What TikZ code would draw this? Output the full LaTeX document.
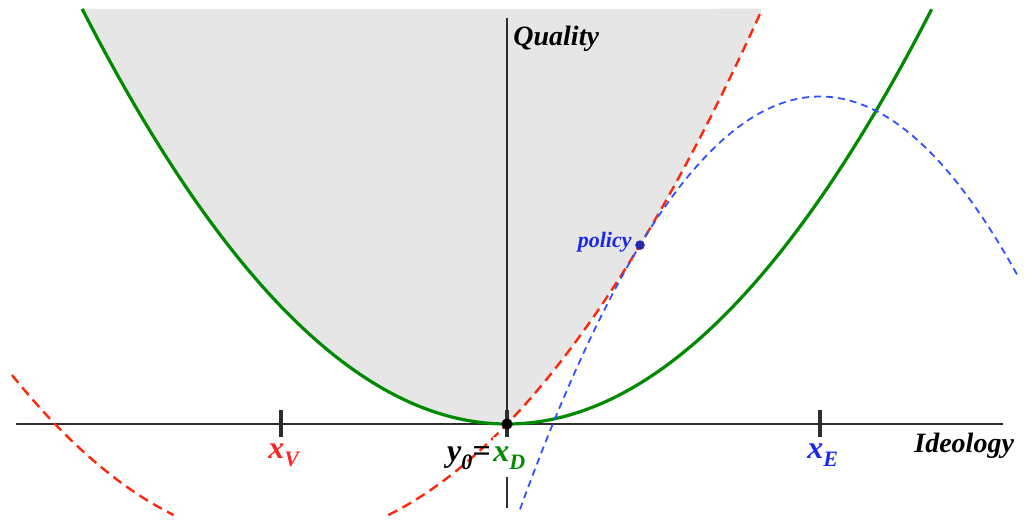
\documentclass[tikz,border=0pt]{standalone}
\usepackage{fontspec}
\setmainfont{Liberation Serif}
\definecolor{pgreen}{RGB}{0,138,0}
\definecolor{pred}{RGB}{255,40,10}
\definecolor{pblue}{RGB}{50,80,255}
\definecolor{lblue}{RGB}{25,40,235}
\definecolor{lred}{RGB}{255,35,35}
\definecolor{dotblue}{RGB}{40,40,170}
\definecolor{axisgray}{RGB}{45,45,45}
\definecolor{regiongray}{RGB}{230,230,230}
\newcommand\subl[1]{\raisebox{-4pt}{\fontsize{11}{11}\selectfont #1}}
\begin{document}
\begin{tikzpicture}[x=50pt,y=50pt,
  font=\fontsize{14}{16}\selectfont\bfseries\itshape,
  axisline/.style={axisgray, line width=1pt},
  tickmark/.style={axisgray, line width=1.6pt},
  greencurve/.style={pgreen, line width=1.6pt, smooth, samples=120},
  redcurve/.style={pred, line width=1.2pt, dash pattern=on 5pt off 3pt, smooth, samples=100},
  bluecurve/.style={pblue, line width=0.9pt, dash pattern=on 3.5pt off 2.5pt, smooth, samples=120},
  lbl/.style={inner sep=0pt},
  xlbl/.style={inner sep=0pt, font=\fontsize{16}{18}\selectfont\bfseries\itshape},
  dotnode/.style={circle, inner sep=0pt, minimum size=#1}]
\useasboundingbox (-5.07,-0.97) rectangle (5.25,4.24);
% shaded region
\fill[regiongray] plot[smooth,samples=100,domain=-4.248:0] (\x,{0.23*\x*\x})
  -- plot[smooth,samples=100,domain=0:2.553] (\x,{0.23*(\x+2.26)*(\x+2.26)-1.175}) -- cycle;
% axes
\coordinate (xl) at (-4.91,0);
\coordinate (xr) at (4.96,0);
\coordinate (yt) at (0,4.06);
\coordinate (yb) at (0,-0.84);
\draw[axisline] (xl) -- (xr);
\draw[axisline] (yb) -- (yt);
% curves
\draw[greencurve] plot[domain=-4.248:4.248] (\x,{0.23*\x*\x});
\draw[redcurve] plot[domain=-4.95:-3.333] (\x,{0.23*(\x+2.26)*(\x+2.26)-1.175});
\draw[redcurve] plot[domain=-1.187:2.553] (\x,{0.23*(\x+2.26)*(\x+2.26)-1.175});
\draw[bluecurve] plot[domain=0.13:5.12] (\x,{3.275-0.4587*(\x-3.13)*(\x-3.13)});
% ticks
\draw[tickmark] (-2.26,0.14) -- (-2.26,-0.13);
\draw[tickmark] (0,0.14) -- (0,-0.13);
\draw[tickmark] (3.13,0.14) -- (3.13,-0.13);
% labels
\node[lbl, anchor=base west] (quality) at (0.06,3.79) {Quality};
\node[lbl, anchor=base west] (ideology) at (4.07,-0.28) {Ideology};
\node[xlbl, anchor=base west, text=lred] (xv) at (-2.39,-0.34) {x\subl{V}};
\node[xlbl, anchor=base west, text=lblue] (xe) at (3.00,-0.34) {x\subl{E}};
\node[xlbl, anchor=base west, text=pgreen, fill=white, text height=12pt, text depth=8pt] (xd) at (-0.14,-0.37) {x\subl{D}};
\node[xlbl, anchor=base east] (y0) at (-0.16,-0.37) {y\subl{0}=};
% points
\node[dotnode=5.6pt, fill=black] (origin) at (0,0) {};
\node[dotnode=4.8pt, fill=dotblue] (policy) at (1.33,1.789) {};
\node[lbl, anchor=base east, text=lblue, font=\fontsize{11}{13}\selectfont\bfseries\itshape] (policylbl) at (1.25,1.77) {policy};
\end{tikzpicture}
\end{document}
